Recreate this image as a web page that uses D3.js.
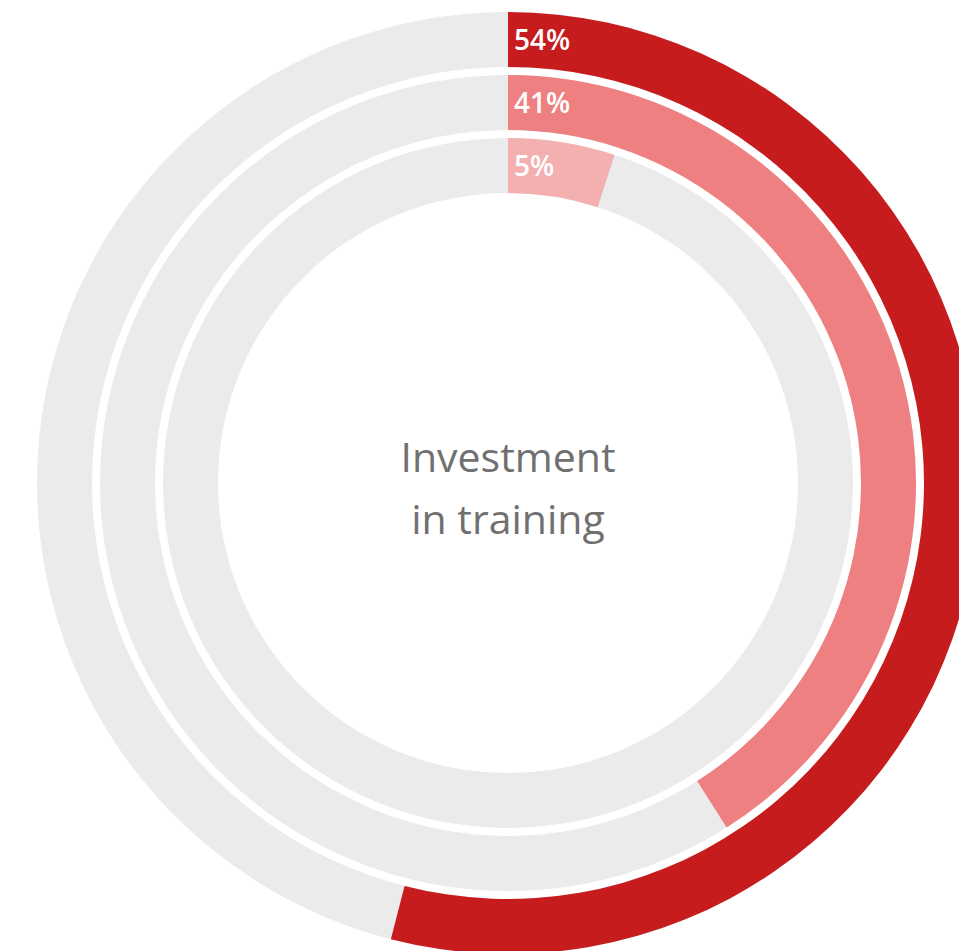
<!DOCTYPE html>
<html>
<head>
<meta charset="utf-8">
<script src="https://d3js.org/d3.v7.min.js"></script>
<style>
  body { margin: 0; background: #fff; overflow: hidden; }
  svg { display: block; }
</style>
</head>
<body>
<svg id="chart" width="959" height="951"></svg>
<script>
  // data
  var categories = ["Outer", "Middle", "Inner"];
  var values = [54, 41, 5];
  var labels = ["54%", "41%", "5%"];
  var colors = ["#c71c1e", "#ef8081", "#f4b0b0"];
  var centerLines = ["Investment", "in training"];

  var cx = 508, cy = 483;
  var outerR = 471, bandW = 55, gap = 8;

  var svg = d3.select("#chart");
  var g = svg.append("g").attr("transform", "translate(" + cx + "," + cy + ")");

  var angle = d3.scaleLinear().domain([0, 100]).range([0, 2 * Math.PI]);

  var rings = g.selectAll("g.ring")
    .data(values)
    .enter().append("g")
    .attr("class", "ring");

  function radii(i) {
    var r1 = outerR - i * (bandW + gap);
    return { outer: r1, inner: r1 - bandW };
  }

  // grey track
  rings.append("path")
    .attr("fill", "#ebebeb")
    .attr("d", function (d, i) {
      var r = radii(i);
      return d3.arc().innerRadius(r.inner).outerRadius(r.outer)
        .startAngle(0).endAngle(2 * Math.PI)();
    });

  // value arc
  rings.append("path")
    .attr("fill", function (d, i) { return colors[i]; })
    .attr("d", function (d, i) {
      var r = radii(i);
      return d3.arc().innerRadius(r.inner).outerRadius(r.outer)
        .startAngle(0).endAngle(angle(d))();
    });

  rings.append("text")
    .attr("x", 6)
    .attr("y", function (d, i) { var r = radii(i); return -(r.outer + r.inner) / 2 + 10; })
    .attr("fill", "#fff")
    .attr("font-family", "'Open Sans', sans-serif")
    .attr("font-weight", 600)
    .attr("font-size", 28)
    .text(function (d, i) { return labels[i]; });

  g.selectAll("text.center")
    .data(centerLines)
    .enter().append("text")
    .attr("class", "center")
    .attr("text-anchor", "middle")
    .attr("y", function (d, i) { return -11 + i * 62; })
    .attr("fill", "#707070")
    .attr("font-family", "'Open Sans', sans-serif")
    .attr("font-size", 41)
    .text(function (d) { return d; });
</script>
</body>
</html>
